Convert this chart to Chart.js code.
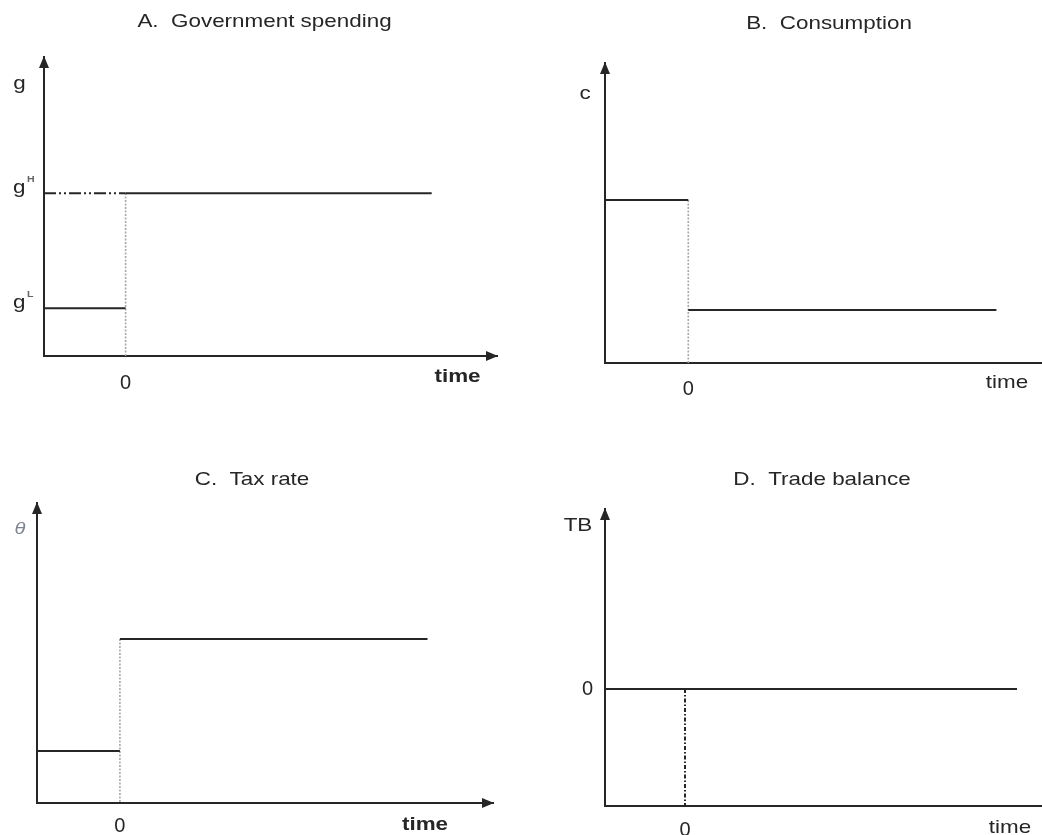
<!DOCTYPE html>
<html>
<head>
<meta charset="utf-8">
<script src="https://cdn.jsdelivr.net/npm/chart.js@4.4.1/dist/chart.umd.min.js"></script>
<style>
  html, body { margin: 0; padding: 0; background: #fff; overflow: hidden; width: 1042px; height: 835px; position: relative; }
  canvas { position: absolute; }
</style>
</head>
<body>
<canvas id="panelA"></canvas>
<canvas id="panelB"></canvas>
<canvas id="panelC"></canvas>
<canvas id="panelD"></canvas>
<script>
// ---- values of the four schematic diagrams ----
// Time runs from t = -1; the permanent policy change happens at t = 0.
const panelTitles = ['A.  Government spending', 'B.  Consumption', 'C.  Tax rate', 'D.  Trade balance'];
const yAxisNames  = ['g', 'c', '\u03B8', 'TB'];
const xTickValues = [0];
const shockTime   = 0;

const govTimes   = [-1, 0, 3.75];   // start, change, end of drawn horizon
const govLevels  = [1.6, 5.44];     // g^L, g^H
const consTimes  = [-1, 0, 3.7];
const consLevels = [5.43, 1.77];    // before, after
const taxTimes   = [-1, 0, 3.71];
const taxLevels  = [1.73, 5.47];    // before, after
const tbTimes    = [-1, 0, 4.15];
const tbLevels   = [0, 0];          // balanced before and after
const tbYTicks   = [0];

// ---- styling ----
const INK = '#262626';
const DOT_GREY = '#a8a8a8';
const FONT = "'Liberation Sans', Arial, sans-serif";
const STRETCH = 1.18;

function seg(xs, ys, extra) {
  return Object.assign({
    data: xs.map((x, i) => ({ x: x, y: ys[i] })),
    borderColor: INK, borderWidth: 2, pointRadius: 0, fill: false, tension: 0
  }, extra || {});
}
const dotted = { borderColor: DOT_GREY, borderWidth: 1.6, borderDash: [2, 1.5] };

function drawText(ctx, str, x, y, font, align, color) {
  ctx.save();
  ctx.font = font;
  ctx.fillStyle = color || INK;
  ctx.textBaseline = 'alphabetic';
  ctx.textAlign = 'left';
  const w = ctx.measureText(str).width * STRETCH;
  const left = align === 'center' ? x - w / 2 : align === 'right' ? x - w : x;
  ctx.translate(left, y);
  ctx.scale(STRETCH, 1);
  ctx.fillText(str, 0, 0);
  ctx.restore();
}

// Arrow heads, titles, axis names and level labels
const decor = {
  id: 'decor',
  afterDraw(chart, args, o) {
    const ctx = chart.ctx, a = chart.chartArea;
    const ox = o.offset[0], oy = o.offset[1];
    ctx.save();
    ctx.fillStyle = INK;
    ctx.beginPath();
    ctx.moveTo(a.left, a.top - 1);
    ctx.lineTo(a.left - 5, a.top + 11);
    ctx.lineTo(a.left + 5, a.top + 11);
    ctx.closePath(); ctx.fill();
    ctx.beginPath();
    ctx.moveTo(a.right + 1, a.bottom);
    ctx.lineTo(a.right - 11, a.bottom - 5);
    ctx.lineTo(a.right - 11, a.bottom + 5);
    ctx.closePath(); ctx.fill();
    ctx.restore();

    drawText(ctx, o.title, o.titlePos[0] - ox, o.titlePos[1] - oy, '19px ' + FONT, 'center');
    drawText(ctx, o.yName, o.yNamePos[0] - ox, o.yNamePos[1] - oy, o.yNameFont || ('19px ' + FONT), 'center', o.yNameColor);
    drawText(ctx, 'time', o.timePos[0] - ox, o.timePos[1] - oy, (o.timeBold ? 'bold ' : '') + '19px ' + FONT, 'center');

    (o.levels || []).forEach(l => {
      const y = chart.scales.y.getPixelForValue(l.value);
      drawText(ctx, 'g', 13 - ox, y, '19px ' + FONT, 'left');
      drawText(ctx, l.sup, 27 - ox, y - 11, 'bold 9px ' + FONT, 'left', '#666');
    });
  }
};

function makePanel(id, rect, area, xr, yr, datasets, xPad, decorOpts, yTicks) {
  const cv = document.getElementById(id);
  cv.width = rect[2]; cv.height = rect[3];
  cv.style.left = rect[0] + 'px'; cv.style.top = rect[1] + 'px';
  decorOpts.offset = [rect[0], rect[1]];
  const leftSpace = area.left - rect[0];
  const bottomSpace = rect[1] + rect[3] - area.bottom;
  new Chart(cv, {
    type: 'line',
    data: { datasets: datasets },
    options: {
      responsive: false, animation: false, devicePixelRatio: 1,
      events: [],
      layout: {
        autoPadding: false,
        padding: { left: 0, top: area.top - rect[1], right: rect[0] + rect[2] - area.right, bottom: 0 }
      },
      plugins: { legend: { display: false }, title: { display: false }, tooltip: { enabled: false }, decor: decorOpts },
      scales: {
        x: {
          type: 'linear', min: xr[0], max: xr[1],
          grid: { display: false, drawTicks: false },
          border: { display: true, color: INK, width: 2 },
          ticks: { color: INK, font: { family: FONT, size: 20 }, padding: xPad, maxRotation: 0, autoSkip: false },
          afterBuildTicks: s => { s.ticks = xTickValues.map(v => ({ value: v })); },
          afterFit: s => { s.height = bottomSpace; }
        },
        y: {
          type: 'linear', min: yr[0], max: yr[1],
          grid: { display: false, drawTicks: false },
          border: { display: true, color: INK, width: 2 },
          ticks: yTicks
            ? { display: true, color: INK, font: { family: FONT, size: 20 }, padding: 12 }
            : { display: false },
          afterBuildTicks: s => { s.ticks = (yTicks || []).map(v => ({ value: v })); },
          afterFit: s => { s.width = leftSpace; }
        }
      }
    },
    plugins: [decor]
  });
}

// A. Government spending
makePanel('panelA', [0, 0, 521, 418], { left: 44, top: 57, right: 497, bottom: 356 },
  [-1, 4.55], [0, 10],
  [
    seg([govTimes[0], govTimes[1]], [govLevels[0], govLevels[0]]),
    seg([govTimes[0], govTimes[1]], [govLevels[1], govLevels[1]], { borderDash: [12, 3, 2, 3, 2, 3] }),
    seg([govTimes[1], govTimes[2]], [govLevels[1], govLevels[1]]),
    seg([shockTime, shockTime], [0, govLevels[1]], dotted)
  ], 15,
  { title: panelTitles[0], titlePos: [264.5, 27], yName: yAxisNames[0], yNamePos: [19.5, 89],
    timePos: [457.5, 382], timeBold: true,
    levels: [{ value: govLevels[1], sup: 'H' }, { value: govLevels[0], sup: 'L' }] });

// B. Consumption
makePanel('panelB', [521, 0, 560, 418], { left: 605, top: 63, right: 1063, bottom: 363 },
  [-1, 4.5], [0, 10],
  [
    seg([consTimes[0], consTimes[1]], [consLevels[0], consLevels[0]]),
    seg([consTimes[1], consTimes[2]], [consLevels[1], consLevels[1]]),
    seg([shockTime, shockTime], [consLevels[0], 0], dotted)
  ], 14,
  { title: panelTitles[1], titlePos: [829, 29], yName: yAxisNames[1], yNamePos: [585, 99],
    timePos: [1007, 388], timeBold: false });

// C. Tax rate
makePanel('panelC', [0, 418, 521, 417], { left: 37, top: 503, right: 493, bottom: 803 },
  [-1, 4.5], [0, 10],
  [
    seg([taxTimes[0], taxTimes[1]], [taxLevels[0], taxLevels[0]]),
    seg([taxTimes[1], taxTimes[2]], [taxLevels[1], taxLevels[1]]),
    seg([shockTime, shockTime], [taxLevels[1], 0], dotted)
  ], 11,
  { title: panelTitles[2], titlePos: [252, 485], yName: yAxisNames[2], yNamePos: [20, 534],
    yNameFont: 'italic 17px ' + FONT, yNameColor: '#7d8390',
    timePos: [425, 830], timeBold: true });

// D. Trade balance
makePanel('panelD', [521, 418, 560, 417], { left: 605, top: 509, right: 1069, bottom: 806 },
  [-1, 4.8], [-1, 1.54],
  [
    seg([tbTimes[0], tbTimes[2]], [tbLevels[0], tbLevels[1]]),
    seg([shockTime, shockTime], [tbLevels[0], -1], { borderWidth: 2, borderDash: [4, 2, 1.5, 2] })
  ], 12,
  { title: panelTitles[3], titlePos: [822, 485], yName: yAxisNames[3], yNamePos: [578, 531],
    timePos: [1010, 833], timeBold: false },
  tbYTicks);
</script>
</body>
</html>
